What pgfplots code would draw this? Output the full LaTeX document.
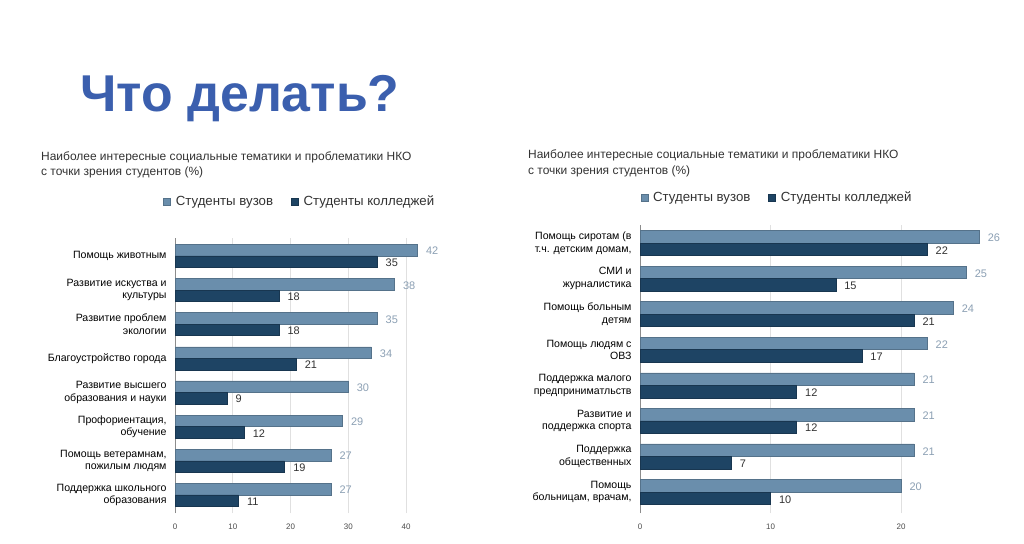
\documentclass[border=0pt]{standalone}
\usepackage{fontspec}
\setmainfont{Liberation Sans}
\usepackage{pgfplots}
\pgfplotsset{compat=1.18}
\definecolor{barlight}{HTML}{6A8EAC}
\definecolor{bardark}{HTML}{1E4464}
\definecolor{vallight}{HTML}{8CA0B4}
\definecolor{titleblue}{HTML}{3B5FAE}
\definecolor{txt}{HTML}{333333}

\pgfplotsset{
  npo/.style={
    scale only axis, xbar, xmin=0,
    axis y line*=left, axis x line*=bottom,
    x axis line style={draw=none},
    y axis line style={draw=black!45, line width=0.8pt},
    xmajorgrids, grid style={draw=black!12, line width=0.6pt},
    major tick length=0pt,
    ytick={7,6,5,4,3,2,1,0},
    yticklabel style={font=\fontsize{10.6}{12.5}\selectfont, align=right, text=black, xshift=-5bp},
    xticklabel style={font=\fontsize{8}{9}\selectfont, text=black!70, yshift=-7bp},
    /pgf/number format/assume math mode=true,
    nodes near coords,
    nodes near coords style={font=\fontsize{11}{12}\selectfont, anchor=west, xshift=5bp, yshift=-1bp},
    legend columns=2,
    legend style={draw=none, fill=none, font=\fontsize{13.3}{15}\selectfont, text=txt,
      /tikz/every odd column/.append style={column sep=3bp},
      /tikz/every even column/.append style={column sep=16bp}},
    legend image code/.code={\fill[##1] (0bp,-3.5bp) rectangle (7bp,3.5bp);},
  },
  lightbar/.style={fill=barlight, draw=barlight!80!black, line width=0.5bp,
    every node near coord/.append style={text=vallight}},
  darkbar/.style={fill=bardark, draw=bardark!80!black, line width=0.5bp,
    every node near coord/.append style={text=black!80}},
}

\begin{document}
\begin{tikzpicture}
\fill[white] (0,0) rectangle (1024bp,544bp);

\node[anchor=base west, inner sep=0, font=\fontsize{52}{60}\selectfont\bfseries, text=titleblue]
  at (80bp,432bp) {Что делать?};

\node[anchor=north west, align=left, inner sep=0, font=\fontsize{12}{15.5}\selectfont, text=txt]
  at (41bp,392.5bp) {Наиболее интересные социальные тематики и проблематики НКО\\с точки зрения студентов (\%)};
\node[anchor=north west, align=left, inner sep=0, font=\fontsize{12}{15.5}\selectfont, text=txt]
  at (528bp,394bp) {Наиболее интересные социальные тематики и проблематики НКО\\с точки зрения студентов (\%)};

% left chart
\begin{axis}[npo,
  at={(175bp,31bp)}, anchor=south west,
  width=259.9bp, height=275.2bp,
  xmax=45, ymin=-0.53, ymax=7.53,
  xtick={0,10,20,30,40},
  bar width=11.5bp,
  yticklabels={Помощь животным, {Развитие искуства и\\культуры}, {Развитие проблем\\экологии},
    Благоустройство города, {Развитие высшего\\образования и науки}, {Профориентация,\\обучение},
    {Помощь ветерамнам,\\пожилым людям}, {Поддержка школьного\\образования}},
  legend style={at={(0.48,1.131)}, anchor=center},
]
\addplot[lightbar, bar shift=5.75bp] coordinates {(42,7) (38,6) (35,5) (34,4) (30,3) (29,2) (27,1) (27,0)};
\addlegendentry{Студенты вузов}
\addplot[darkbar, bar shift=-5.75bp] coordinates {(35,7) (18,6) (18,5) (21,4) (9,3) (12,2) (19,1) (11,0)};
\addlegendentry{Студенты колледжей}
\end{axis}

% right chart
\begin{axis}[npo,
  at={(640bp,31bp)}, anchor=south west,
  width=365.4bp, height=288.1bp,
  xmax=28, ymin=-0.59, ymax=7.51,
  xtick={0,10,20},
  bar width=12.5bp,
  yticklabels={{Помощь сиротам (в\\т.ч. детским домам,}, {СМИ и\\журналистика}, {Помощь больным\\детям},
    {Помощь людям с\\ОВЗ}, {Поддержка малого\\предприниматльств}, {Развитие и\\поддержка спорта},
    {Поддержка\\общественных}, {Помощь\\больницам, врачам,}},
  legend style={at={(0.375,1.094)}, anchor=center},
]
\addplot[lightbar, bar shift=6.25bp] coordinates {(26,7) (25,6) (24,5) (22,4) (21,3) (21,2) (21,1) (20,0)};
\addlegendentry{Студенты вузов}
\addplot[darkbar, bar shift=-6.25bp] coordinates {(22,7) (15,6) (21,5) (17,4) (12,3) (12,2) (7,1) (10,0)};
\addlegendentry{Студенты колледжей}
\end{axis}
\end{tikzpicture}
\end{document}
